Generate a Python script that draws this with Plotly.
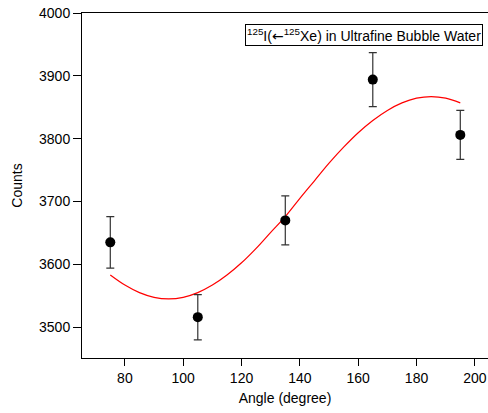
import plotly.graph_objects as go

# Measured data points
angles = [75, 105, 135, 165, 195]
counts = [3635, 3516, 3670, 3894, 3806]
errors = [41, 36, 39, 43, 39]

# Fit curve
fit_angles = [75, 80, 85, 90, 95, 100, 105, 110, 115, 120, 125, 130, 135,
              140, 145, 150, 155, 160, 165, 170, 175, 180, 185, 190, 195]
fit_counts = [3583, 3567, 3555, 3547.5, 3545, 3547.5, 3555, 3567, 3583, 3602.5,
              3625.5, 3651, 3676, 3705, 3733, 3761, 3786.5, 3809.5, 3829, 3845,
              3857, 3864.5, 3867, 3864.5, 3857]

x_ticks = [80, 100, 120, 140, 160, 180, 200]
y_ticks = [3500, 3600, 3700, 3800, 3900, 4000]

font = "Liberation Sans, Arial, sans-serif"

fig = go.Figure()
fig.add_trace(go.Scatter(
    x=fit_angles, y=fit_counts, mode="lines", line_shape="spline",
    line=dict(color="#ff0000", width=1.2), hoverinfo="skip", showlegend=False))
fig.add_trace(go.Scatter(
    x=angles, y=counts, mode="markers",
    marker=dict(color="black", size=10),
    error_y=dict(type="data", array=errors, visible=True, color="#333333",
                 thickness=1.2, width=4),
    showlegend=False))

fig.add_annotation(
    xref="paper", yref="paper", x=0.988, y=0.968, xanchor="right", yanchor="top",
    text=("<sup>125</sup>I(<span style=\"font-family:DejaVu Sans\">\u2190</span>"
          "<sup>125</sup>Xe) in Ultrafine Bubble Water"),
    showarrow=False, font=dict(family=font, size=14, color="black"),
    bordercolor="black", borderwidth=1, borderpad=1, bgcolor="white")

fig.update_layout(
    width=488, height=413,
    margin=dict(l=82, r=0, t=13, b=55),
    paper_bgcolor="white", plot_bgcolor="white",
    font=dict(family=font, size=14, color="black"),
    xaxis=dict(range=[65.3, 204.5], tickvals=x_ticks, ticks="outside", ticklen=7,
               tickcolor="black", showline=True, linecolor="black", linewidth=1,
               mirror=True, showgrid=False, zeroline=False,
               title=dict(text="Angle (degree)", font=dict(size=14), standoff=8),
               tickfont=dict(size=14)),
    yaxis=dict(range=[3451, 4000], tickvals=y_ticks, ticks="outside", ticklen=8,
               tickcolor="black", showline=True, linecolor="black", linewidth=1,
               showgrid=False, zeroline=False,
               title=dict(text="Counts", font=dict(size=14), standoff=13),
               tickfont=dict(size=14)),
)

fig.write_html(
    "out.html",
    config={"displayModeBar": False},
    post_script="document.body.style.margin='0';document.body.style.overflow='hidden';")
